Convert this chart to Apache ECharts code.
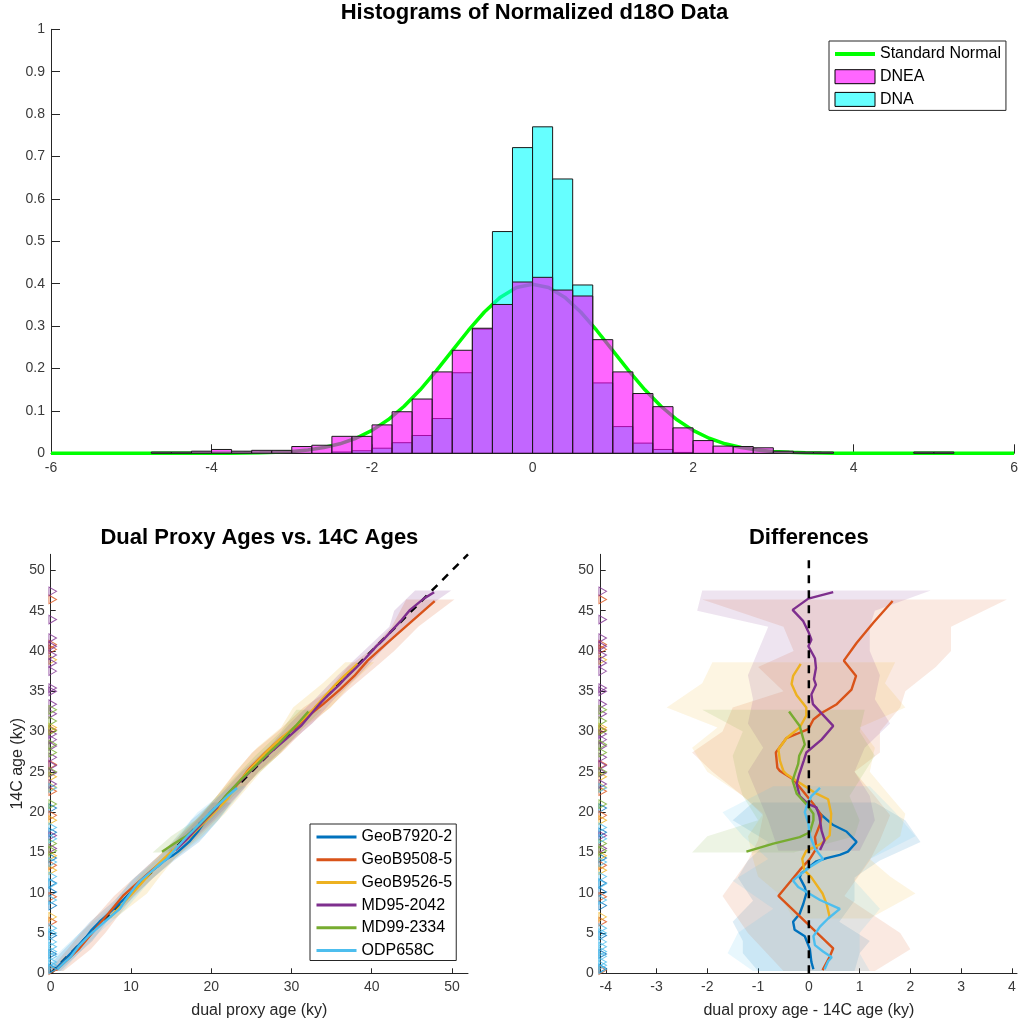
<!DOCTYPE html>
<html>
<head>
<meta charset="utf-8">
<script src="https://cdn.jsdelivr.net/npm/echarts@6/dist/echarts.min.js"></script>
<style>
  html, body { margin: 0; padding: 0; background: #fff; }
  #chart { width: 1021px; height: 1025px; }
</style>
</head>
<body>
<div id="chart"></div>
<script>
// ---------- Histogram of normalized d18O (bin width 0.25, pdf normalization) ----------
const binWidth = 0.25;
const binLeft = [-4.75, -4.5, -4.25, -4, -3.75, -3.5, -3.25, -3, -2.75, -2.5,
                 -2.25, -2, -1.75, -1.5, -1.25, -1, -0.75, -0.5, -0.25, 0,
                 0.25, 0.5, 0.75, 1, 1.25, 1.5, 1.75, 2, 2.25, 2.5,
                 2.75, 3, 3.25, 3.5, 3.75, 4, 4.25, 4.5, 4.75, 5];
const dneaDensity = [0.003, 0.003, 0.005, 0.009, 0.005, 0.007, 0.007, 0.016, 0.019, 0.040,
                     0.040, 0.067, 0.098, 0.128, 0.192, 0.243, 0.295, 0.351, 0.404, 0.415,
                     0.385, 0.371, 0.268, 0.192, 0.141, 0.110, 0.060, 0.030, 0.017, 0.016,
                     0.013, 0.005, 0.003, 0.003, 0, 0, 0, 0, 0.003, 0.003];
const dnaDensity  = [0, 0, 0, 0, 0, 0, 0, 0, 0, 0.003,
                     0.006, 0.012, 0.025, 0.042, 0.082, 0.190, 0.293, 0.523, 0.721, 0.770,
                     0.647, 0.397, 0.166, 0.063, 0.024, 0.009, 0.002, 0, 0, 0,
                     0, 0, 0, 0, 0, 0, 0, 0, 0, 0];

// Standard normal density, tabulated
const normalX = [-6, -4, -3.8, -3.6, -3.4, -3.2, -3, -2.8, -2.6, -2.4, -2.2, -2, -1.8, -1.6, -1.4,
                 -1.2, -1, -0.8, -0.6, -0.4, -0.2, 0, 0.2, 0.4, 0.6, 0.8, 1, 1.2, 1.4, 1.6, 1.8,
                 2, 2.2, 2.4, 2.6, 2.8, 3, 3.2, 3.4, 3.6, 3.8, 4, 6];
const normalY = [0, 0.0001, 0.0003, 0.0006, 0.0012, 0.0024, 0.0044, 0.0079, 0.0136, 0.0224,
                 0.0355, 0.0540, 0.0790, 0.1109, 0.1497, 0.1942, 0.2420, 0.2897, 0.3332, 0.3683,
                 0.3910, 0.3989, 0.3910, 0.3683, 0.3332, 0.2897, 0.2420, 0.1942, 0.1497, 0.1109,
                 0.0790, 0.0540, 0.0355, 0.0224, 0.0136, 0.0079, 0.0044, 0.0024, 0.0012, 0.0006,
                 0.0003, 0.0001, 0];

// ---------- Cores: 14C age (ky), dual proxy minus 14C age (ky), uncertainty band, 14C dates ----------
const geoB7920Age  = [0.5, 1.4, 3.0, 4.6, 5.4, 6.4, 7.4, 8.6, 9.9, 10.7, 11.9, 12.4, 13.9, 14.3, 14.7, 15.1, 16.3, 17.6, 18.4, 19.8, 21.0];
const geoB7920Diff = [0.09, 0.05, 0.02, -0.08, -0.28, -0.31, -0.18, -0.11, -0.05, -0.08, -0.18, -0.15, 0.15, 0.35, 0.61, 0.77, 0.94, 0.74, 0.48, 0.22, 0.09];
const geoB7920BandAge = [0.3, 2.5, 4.0, 6.4, 9.0, 11.9, 14.0, 16.3, 19.0, 21.2];
const geoB7920BandLo  = [-1.0, -1.3, -1.3, -1.5, -1.1, -1.4, -1.2, -0.8, -1.5, -1.1];
const geoB7920BandHi  = [0.9, 1.0, 1.2, 0.6, 0.9, 0.9, 1.4, 2.2, 1.9, 1.3];
const geoB7920Dates = [0.6, 2.4, 4.7, 8.4, 10.1, 11.2, 14.3, 17.5, 20.5];

const geoB9508Age  = [0.4, 2.05, 3.1, 9.6, 12.8, 14.2, 15.5, 16.9, 18.5, 19.6, 21.0, 24.1, 25.1, 25.5, 27.4, 29.2, 29.7, 30.3, 31.5, 32.3, 33.4, 35.2, 36.9, 38.8, 41.0, 43.5, 46.2];
const geoB9508Diff = [0.27, 0.41, 0.48, -0.60, -0.18, 0.02, 0.15, 0.12, 0.22, 0.25, 0.09, -0.31, -0.57, -0.62, -0.65, -0.44, -0.24, -0.01, 0.09, 0.25, 0.55, 0.84, 0.93, 0.69, 0.94, 1.27, 1.65];
const geoB9508BandAge = [0.3, 3.0, 5.0, 9.6, 14.0, 16.5, 19.6, 22.0, 25.0, 27.4, 30.0, 33.0, 35.0, 38.0, 40.0, 43.0, 46.4];
const geoB9508BandLo  = [-0.5, -0.9, -1.2, -1.7, -1.2, -1.0, -0.9, -1.3, -1.9, -2.3, -1.7, -1.5, -0.5, -1.0, -0.3, -0.5, -2.1];
const geoB9508BandHi  = [1.3, 2.0, 1.8, 0.7, 1.2, 1.4, 1.6, 1.3, 0.9, 1.4, 1.4, 1.8, 1.9, 2.5, 2.8, 2.8, 3.9];
const geoB9508Dates = [0.4, 6.4, 9.5, 13.4, 19.6, 22.6, 25.9, 30.2, 40.2, 40.8, 46.4];

const geoB9526Age  = [7.0, 8.6, 9.9, 11.9, 12.8, 14.2, 15.2, 16.1, 17.1, 19.8, 21.6, 22.4, 24.7, 25.1, 26.4, 27.8, 29.2, 30.5, 32.0, 33.0, 34.5, 35.9, 36.9, 38.4];
const geoB9526Diff = [0.41, 0.35, 0.27, 0.05, -0.09, -0.13, -0.05, 0.25, 0.41, 0.44, 0.38, 0.12, -0.44, -0.50, -0.57, -0.60, -0.44, -0.18, -0.05, -0.05, -0.24, -0.34, -0.31, -0.16];
const geoB9526BandAge = [6.8, 9.9, 12.0, 14.2, 17.0, 19.8, 22.0, 25.0, 28.0, 30.5, 33.0, 36.0, 38.6];
const geoB9526BandLo  = [-0.3, -0.6, -1.0, -1.1, -1.2, -0.9, -1.3, -2.0, -2.3, -1.8, -2.8, -2.1, -1.9];
const geoB9526BandHi  = [1.2, 2.1, 1.6, 1.2, 1.8, 1.9, 1.6, 1.2, 1.3, 1.0, 1.9, 1.5, 1.7];
const geoB9526Dates = [7.0, 12.8, 14.6, 19.0, 23.1, 24.4, 30.5, 38.9];

const md952042Age  = [15.3, 16.5, 17.7, 19.4, 20.6, 21.0, 22.0, 23.5, 24.7, 26.4, 27.4, 29.0, 30.7, 33.4, 34.6, 35.8, 36.5, 37.9, 39.1, 40.6, 41.4, 42.4, 43.7, 45.1, 46.5, 47.3];
const md952042Diff = [0.22, 0.31, 0.25, 0.21, 0.15, -0.01, -0.18, -0.24, -0.19, -0.10, -0.05, 0.25, 0.48, 0.08, 0.05, 0.14, 0.10, 0.14, 0.12, -0.01, 0.05, -0.01, -0.11, -0.32, -0.01, 0.48];
const md952042BandAge = [15.2, 19.0, 22.0, 25.0, 28.0, 31.0, 34.0, 37.0, 40.0, 43.0, 45.0, 47.5];
const md952042BandLo  = [-0.6, -0.8, -1.0, -1.2, -0.9, -1.2, -1.1, -1.2, -1.0, -0.8, -2.2, -2.1];
const md952042BandHi  = [1.0, 1.3, 1.2, 0.9, 1.1, 1.6, 1.3, 1.4, 1.2, 1.2, 1.3, 2.4];
const md952042Dates = [15.5, 17.1, 23.5, 24.9, 25.8, 26.8, 28.2, 29.0, 29.7, 32.2, 33.4, 35.0, 35.4, 37.5, 38.5, 39.5, 40.6, 41.6, 43.9, 47.4];

const md992334Age  = [15.1, 16.1, 16.9, 17.5, 19.0, 19.8, 21.0, 22.3, 23.9, 24.7, 26.0, 27.0, 28.4, 30.7, 32.5];
const md992334Diff = [-1.23, -0.70, -0.18, 0.02, 0.09, 0.09, -0.05, -0.24, -0.32, -0.28, -0.21, -0.19, -0.08, -0.18, -0.39];
const md992334BandAge = [15.0, 17.0, 19.0, 22.0, 24.0, 27.0, 30.0, 32.7];
const md992334BandLo  = [-2.3, -2.0, -1.0, -1.3, -1.4, -1.5, -1.3, -2.1];
const md992334BandHi  = [-0.3, 0.9, 1.0, 0.8, 1.0, 1.3, 1.0, 1.1];
const md992334Dates = [15.2, 16.1, 21.0, 25.0, 27.4, 28.4, 30.1, 31.3, 32.7];

const odp658Age  = [0.5, 1.5, 2.0, 2.7, 3.5, 4.6, 5.8, 6.8, 8.0, 9.1, 10.7, 11.5, 11.9, 13.2, 14.2, 15.5, 17.1, 18.6, 20.0, 20.6, 22.0, 23.0];
const odp658Diff = [0.31, 0.38, 0.45, 0.28, 0.12, 0.09, 0.22, 0.38, 0.61, 0.22, -0.21, -0.31, -0.24, 0.02, 0.28, 0.12, 0.02, -0.01, -0.08, -0.05, 0.05, 0.22];
const odp658BandAge = [0.3, 2.5, 5.0, 8.0, 11.5, 14.2, 17.0, 20.0, 23.2];
const odp658BandLo  = [-1.1, -1.6, -1.4, -0.7, -1.5, -0.8, -1.3, -1.7, -0.7];
const odp658BandHi  = [1.2, 1.0, 1.0, 1.4, 0.9, 1.2, 2.1, 1.7, 1.2];
const odp658Dates = [0.5, 1.0, 1.4, 2.1, 2.7, 3.3, 3.9, 5.0, 5.6, 9.1, 11.1, 12.0, 13.8, 16.7, 18.1, 23.0];

const coreNames  = ['GeoB7920-2', 'GeoB9508-5', 'GeoB9526-5', 'MD95-2042', 'MD99-2334', 'ODP658C'];
const coreColors = ['#0072BD', '#D95319', '#EDB120', '#7E2F8E', '#77AC30', '#4DBEEE'];

// axis ticks for the age panels
const ageTicks = [0, 5, 10, 15, 20, 25, 30, 35, 40, 45, 50];
const dualTicks = [0, 10, 20, 30, 40, 50];
const diffTicks = [-4, -3, -2, -1, 0, 1, 2, 3, 4];
const oneToOne = [0, 52];

// ---------- assemble ----------
const cores = [
  [geoB7920Age, geoB7920Diff, geoB7920BandAge, geoB7920BandLo, geoB7920BandHi, geoB7920Dates],
  [geoB9508Age, geoB9508Diff, geoB9508BandAge, geoB9508BandLo, geoB9508BandHi, geoB9508Dates],
  [geoB9526Age, geoB9526Diff, geoB9526BandAge, geoB9526BandLo, geoB9526BandHi, geoB9526Dates],
  [md952042Age, md952042Diff, md952042BandAge, md952042BandLo, md952042BandHi, md952042Dates],
  [md992334Age, md992334Diff, md992334BandAge, md992334BandLo, md992334BandHi, md992334Dates],
  [odp658Age, odp658Diff, odp658BandAge, odp658BandLo, odp658BandHi, odp658Dates]
].map((c, k) => ({
  name: coreNames[k], color: coreColors[k],
  age: c[0], diff: c[1], bandAge: c[2], bandLo: c[3], bandHi: c[4], dates: c[5]
}));

const FONT = "'Liberation Sans', Arial, Helvetica, sans-serif";
const TITLE_FONT = "bold 22px 'Liberation Sans', Arial, sans-serif";
const AX = '#262626';
const LBL = '#3a3a3a';

function valueAxis(extra, tickLen) {
  const base = {
    type: 'value',
    axisLine: { show: true, onZero: false, lineStyle: { color: AX, width: 1 } },
    axisTick: { show: true, inside: true, length: tickLen, lineStyle: { color: AX, width: 1 } },
    axisLabel: { color: LBL, fontSize: 14, fontFamily: FONT, margin: 7 },
    splitLine: { show: false },
    nameTextStyle: { color: AX, fontSize: 16, fontFamily: FONT }
  };
  const out = Object.assign({}, base, extra);
  if (extra.axisTick) out.axisTick = Object.assign({}, base.axisTick, extra.axisTick);
  if (extra.axisLabel) out.axisLabel = Object.assign({}, base.axisLabel, extra.axisLabel);
  return out;
}

function histSeries(name, density, fill) {
  return {
    type: 'custom', name, xAxisIndex: 0, yAxisIndex: 0, z: 3,
    data: binLeft.map((x, i) => [x, x + binWidth, density[i]]).filter(d => d[2] > 0),
    encode: { x: [0, 1], y: 2 },
    itemStyle: { color: fill, borderColor: '#000', borderWidth: 1 },
    renderItem: (params, api) => {
      const p0 = api.coord([api.value(0), api.value(2)]);
      const p1 = api.coord([api.value(1), 0]);
      return {
        type: 'rect',
        shape: { x: p0[0], y: p0[1], width: p1[0] - p0[0], height: p1[1] - p0[1] },
        style: { fill, stroke: '#1a1a1a', lineWidth: 1 }
      };
    }
  };
}

function bandSeries(points, color, gi, opacity) {
  return {
    type: 'custom', xAxisIndex: gi, yAxisIndex: gi, z: 1, silent: true, clip: true,
    data: [points[0]],
    renderItem: (params, api) => ({
      type: 'polygon',
      shape: { points: points.map(p => api.coord(p)) },
      style: { fill: color, opacity }
    })
  };
}

const series = [];

// top panel
series.push({
  type: 'line', name: 'Standard Normal', xAxisIndex: 0, yAxisIndex: 0, z: 2,
  data: normalX.map((x, i) => [x, normalY[i]]),
  symbol: 'none', lineStyle: { color: '#00ff00', width: 3.5 }, itemStyle: { color: '#00ff00' }
});
series.push(histSeries('DNA', dnaDensity, 'rgba(0,255,255,0.6)'));
series.push(histSeries('DNEA', dneaDensity, 'rgba(255,0,255,0.6)'));

// uncertainty bands
cores.forEach(c => {
  const leftPts = [], rightPts = [];
  c.bandAge.forEach((a, i) => { leftPts.push([a + c.bandLo[i], a]); rightPts.push([c.bandLo[i], a]); });
  for (let i = c.bandAge.length - 1; i >= 0; i--) {
    const a = c.bandAge[i];
    leftPts.push([a + c.bandHi[i], a]); rightPts.push([c.bandHi[i], a]);
  }
  series.push(bandSeries(leftPts, c.color, 1, 0.17));
  series.push(bandSeries(rightPts, c.color, 2, 0.13));
});

// 1:1 reference in the age-age panel
series.push({
  type: 'line', xAxisIndex: 1, yAxisIndex: 1, z: 2, silent: true, symbol: 'none',
  data: [[oneToOne[0], oneToOne[0]], [oneToOne[1], oneToOne[1]]],
  lineStyle: { color: '#000', width: 2.5, type: [8, 7] }
});

// age lines
cores.forEach(c => {
  series.push({
    type: 'line', name: c.name, xAxisIndex: 1, yAxisIndex: 1, z: 3, symbol: 'none',
    data: c.age.map((a, i) => [a + c.diff[i], a]),
    lineStyle: { color: c.color, width: 2.4 }, itemStyle: { color: c.color }
  });
  series.push({
    type: 'line', name: c.name + ' ', xAxisIndex: 2, yAxisIndex: 2, z: 3, symbol: 'none',
    data: c.age.map((a, i) => [c.diff[i], a]),
    lineStyle: { color: c.color, width: 2.4 }, itemStyle: { color: c.color }
  });
});

// zero-difference reference
series.push({
  type: 'line', xAxisIndex: 2, yAxisIndex: 2, z: 4, silent: true, symbol: 'none',
  data: [[0, oneToOne[0]], [0, oneToOne[1]]],
  lineStyle: { color: '#000', width: 2.5, type: [8, 7] }
});

// 14C date markers along the age axis
cores.forEach(c => {
  [[1, 0], [2, -4.1]].forEach(([gi, xPos]) => {
    series.push({
      type: 'scatter', xAxisIndex: gi, yAxisIndex: gi, z: 5, silent: true, clip: false,
      symbol: 'triangle', symbolRotate: -90, symbolSize: [8.5, 7.5], symbolOffset: [2, 0],
      data: c.dates.map(d => [xPos, d]),
      itemStyle: { color: 'rgba(0,0,0,0)', borderColor: c.color, borderWidth: 1 }
    });
  });
});

// line-only legend keys (no marker dot on the key)
const lineKey = { opacity: 0 };

const option = {
  animation: false,
  backgroundColor: '#fff',
  textStyle: { fontFamily: FONT },
  grid: [
    { left: 51, top: 29.3, width: 967, height: 424 },
    { left: 50.7, top: 554.3, width: 417.3, height: 419 },
    { left: 600.7, top: 554.3, width: 416.3, height: 419 }
  ],
  xAxis: [
    valueAxis({ gridIndex: 0, min: -6, max: 6, interval: 2, axisLabel: { margin: 8 } }, 9),
    valueAxis({ gridIndex: 1, min: 0, max: 52, name: 'dual proxy age (ky)', nameLocation: 'middle', nameGap: 29,
                axisTick: { customValues: dualTicks }, axisLabel: { customValues: dualTicks } }, 5),
    valueAxis({ gridIndex: 2, min: -4.1, max: 4.1, name: 'dual proxy age - 14C age (ky)', nameLocation: 'middle', nameGap: 29,
                axisTick: { customValues: diffTicks }, axisLabel: { customValues: diffTicks } }, 5)
  ],
  yAxis: [
    valueAxis({ gridIndex: 0, min: 0, max: 1, interval: 0.1, axisLabel: { margin: 6 } }, 9),
    valueAxis({ gridIndex: 1, min: 0, max: 52, name: '14C age (ky)', nameLocation: 'middle', nameGap: 24,
                axisTick: { customValues: ageTicks }, axisLabel: { customValues: ageTicks, margin: 6 } }, 5),
    valueAxis({ gridIndex: 2, min: 0, max: 52,
                axisTick: { customValues: ageTicks }, axisLabel: { customValues: ageTicks, margin: 7 } }, 5)
  ],
  legend: [
    {
      orient: 'vertical', left: 829, top: 41, padding: [5, 5, 3, 4], itemGap: 6.7,
      itemWidth: 40, itemHeight: 14, borderColor: AX, borderWidth: 1, backgroundColor: '#fff',
      textStyle: { fontSize: 16, color: '#000', fontFamily: FONT },
      data: [
        { name: 'Standard Normal', itemStyle: lineKey, lineStyle: { width: 4 } },
        { name: 'DNEA', icon: 'rect', itemStyle: { color: 'rgba(255,0,255,0.6)', borderColor: '#000', borderWidth: 1 } },
        { name: 'DNA', icon: 'rect', itemStyle: { color: 'rgba(0,255,255,0.6)', borderColor: '#000', borderWidth: 1 } }
      ]
    },
    {
      orient: 'vertical', left: 310, top: 824, padding: [5, 4, 2, 5], itemGap: 6.7,
      itemWidth: 40, itemHeight: 14, borderColor: AX, borderWidth: 1, backgroundColor: '#fff',
      textStyle: { fontSize: 16, color: '#000', fontFamily: FONT },
      itemStyle: lineKey,
      lineStyle: { width: 3 },
      data: coreNames
    }
  ],
  graphic: [
    { type: 'text', x: 534.5, y: 12.5, style: { text: 'Histograms of Normalized d18O Data', font: TITLE_FONT, fill: '#000', align: 'center', verticalAlign: 'middle' } },
    { type: 'text', x: 259.4, y: 538, style: { text: 'Dual Proxy Ages vs. 14C Ages', font: TITLE_FONT, fill: '#000', align: 'center', verticalAlign: 'middle' } },
    { type: 'text', x: 808.9, y: 538, style: { text: 'Differences', font: TITLE_FONT, fill: '#000', align: 'center', verticalAlign: 'middle' } }
  ],
  series
};

const chart = echarts.init(document.getElementById('chart'), null, { renderer: 'canvas' });
chart.setOption(option);
</script>
</body>
</html>
